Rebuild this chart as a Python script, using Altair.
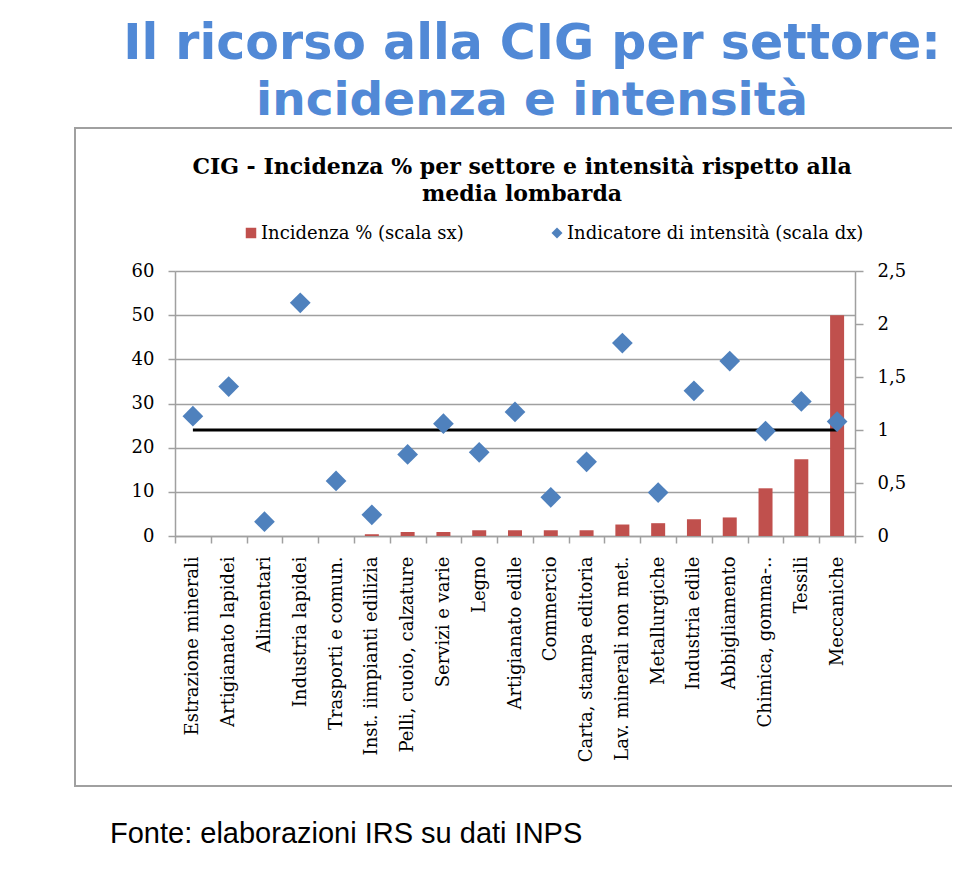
import altair as alt
import pandas as pd

settori = [
    "Estrazione minerali", "Artigianato lapidei", "Alimentari", "Industria lapidei",
    "Trasporti e comun.", "Inst. iimpianti  edilizia", "Pelli, cuoio, calzature",
    "Servizi e varie", "Legno", "Artigianato edile", "Commercio",
    "Carta, stampa  editoria", "Lav. minerali non met.", "Metallurgiche",
    "Industria edile", "Abbigliamento", "Chimica, gomma-..", "Tessili", "Meccaniche",
]
incidenza = [0, 0, 0, 0, 0, 0.4, 0.9, 0.9, 1.3, 1.3, 1.3, 1.3, 2.6, 2.9, 3.8, 4.2, 10.8, 17.4, 50.0]
intensita = [1.13, 1.41, 0.135, 2.20, 0.52, 0.20, 0.77, 1.06, 0.79, 1.17, 0.365, 0.70,
             1.82, 0.41, 1.37, 1.65, 0.99, 1.27, 1.08]
media_lombarda = 1.0
left_ticks = [0, 10, 20, 30, 40, 50, 60]
right_ticks = [0, 0.5, 1, 1.5, 2, 2.5]

titolo = ["Il ricorso alla CIG per settore:", "incidenza e intensità"]
sottotitolo = ["CIG - Incidenza  % per settore e intensità rispetto alla", "media lombarda"]
leg_bar = "Incidenza % (scala sx)"
leg_pt = "Indicatore di intensità (scala dx)"
fonte = "Fonte: elaborazioni IRS su dati INPS"

RED = "#C0504D"
BLUE = "#4F81BD"
GRID = "#A0A0A0"
SERIF = "DejaVu Serif"

df = pd.DataFrame({"settore": settori, "incidenza": incidenza, "intensita": intensita})
ref = pd.DataFrame({"da": [settori[0]], "a": [settori[-1]], "v": [media_lombarda]})

xscale = alt.Scale(domain=settori, paddingInner=0, paddingOuter=0)
xenc = alt.X("settore:N", scale=xscale, sort=None, title=None,
             axis=alt.Axis(labelAngle=-90, labelFont=SERIF, labelFontSize=18,
                           labelColor="black", labelPadding=13, tickBand="extent",
                           tickColor=GRID, tickSize=7, tickWidth=1.5,
                           domainColor=GRID, domainWidth=1.5, labelLimit=300))

bars = alt.Chart(df).mark_bar(color=RED, size=14).encode(
    x=xenc,
    y=alt.Y("incidenza:Q", scale=alt.Scale(domain=[0, 60], nice=False), title=None,
            axis=alt.Axis(orient="left", values=left_ticks, grid=True, gridColor=GRID,
                          gridWidth=1.5, domainColor=GRID, domainWidth=1.5,
                          tickColor=GRID, tickSize=7, tickWidth=1.5,
                          labelFont=SERIF, labelFontSize=18, labelColor="black",
                          labelPadding=14)),
)

rule = alt.Chart(ref).mark_rule(color="black", strokeWidth=3).encode(
    x=alt.X("da:N", scale=xscale),
    x2="a:N",
    y=alt.Y("v:Q", scale=alt.Scale(domain=[0, 2.5], nice=False)),
)

points = alt.Chart(df).mark_point(shape="diamond", filled=True, color=BLUE,
                                  opacity=1, size=430).encode(
    x=alt.X("settore:N", scale=xscale, sort=None),
    y=alt.Y("intensita:Q", scale=alt.Scale(domain=[0, 2.5], nice=False), title=None,
            axis=alt.Axis(orient="right", values=right_ticks, grid=False,
                          domainColor=GRID, domainWidth=1.5, tickColor=GRID,
                          tickSize=8, tickWidth=1.5, labelFont=SERIF, labelFontSize=18,
                          labelColor="black", labelPadding=14,
                          labelExpr="replace(format(datum.value, '~g'), '.', ',')")),
)

one = pd.DataFrame({"k": [0]})


def txt(t, x, y, **kw):
    return alt.Chart(one).mark_text(text=t, **kw).encode(x=alt.value(x), y=alt.value(y))


frame = alt.Chart(one).mark_rect(fillOpacity=0, stroke="#A0A0A0", strokeWidth=2).encode(
    x=alt.value(-100), x2=alt.value(781), y=alt.value(-143), y2=alt.value(515))

texts = [
    txt(titolo[0], 357, -212, font="DejaVu Sans", fontWeight="bold", fontSize=49,
        color="#5189D6", align="center", baseline="alphabetic"),
    txt(titolo[1], 357, -156, font="DejaVu Sans", fontWeight="bold", fontSize=47,
        color="#5189D6", align="center", baseline="alphabetic"),
    txt(sottotitolo[0], 347, -97, font=SERIF, fontWeight="bold", fontSize=22,
        color="black", align="center", baseline="alphabetic"),
    txt(sottotitolo[1], 347, -70, font=SERIF, fontWeight="bold", fontSize=22,
        color="black", align="center", baseline="alphabetic"),
    txt(leg_bar, 86, -32, font=SERIF, fontSize=18, color="black", align="left",
        baseline="alphabetic"),
    txt(leg_pt, 392, -32, font=SERIF, fontSize=18, color="black", align="left",
        baseline="alphabetic"),
    txt(fonte, -65, 572, font="Liberation Sans", fontSize=29, color="black",
        align="left", baseline="alphabetic"),
]
leg_sq = alt.Chart(one).mark_square(color=RED, size=110, opacity=1).encode(
    x=alt.value(76), y=alt.value(-38))
leg_di = alt.Chart(one).mark_point(shape="diamond", filled=True, color=BLUE, opacity=1,
                                   size=120).encode(x=alt.value(382), y=alt.value(-38))

chart = alt.layer(
    frame, *texts, leg_sq, leg_di, bars, alt.layer(rule, points)
).resolve_scale(y="independent").properties(
    width=680, height=265,
    autosize=alt.AutoSizeParams(type="none"),
    padding={"left": 167, "top": 263, "right": 97, "bottom": 327},
).configure_view(stroke=None).configure(background="white")

chart.save("out.html", embed_options={"renderer": "svg", "actions": False})
